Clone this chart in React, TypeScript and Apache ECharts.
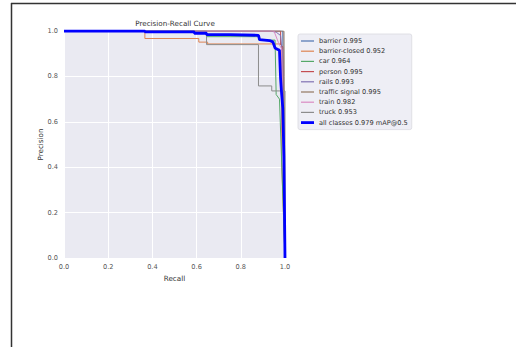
import React, { useEffect, useRef } from "react";
import * as echarts from "echarts";

const classNames = [
  "barrier 0.995",
  "barrier-closed 0.952",
  "car 0.964",
  "person 0.995",
  "rails 0.993",
  "traffic signal 0.995",
  "train 0.982",
  "truck 0.953",
];
const allClassesName = "all classes 0.979 mAP@0.5";
const classColors = ["#4C72B0", "#DD8452", "#55A868", "#C44E52", "#8172B3", "#937860", "#DA8BC3", "#8C8C8C"];

// [recall, precision]
const barrierCurve = [[0, 1], [0.99, 1], [1.0, 0]];
const barrierClosedCurve = [[0, 1], [0.366, 1], [0.366, 0.967], [0.61, 0.967], [0.61, 0.951], [0.65, 0.951], [0.65, 0.943], [0.975, 0.943], [0.985, 0.94], [0.985, 0.42], [1.0, 0]];
const carCurve = [[0, 1], [0.645, 1], [0.645, 0.975], [0.88, 0.975], [0.88, 0.96], [0.955, 0.96], [0.96, 0.72], [0.975, 0.7], [1.0, 0]];
const personCurve = [[0, 1], [0.98, 1], [0.98, 0.94], [0.99, 0.93], [1.0, 0]];
const railsCurve = [[0, 1], [0.93, 1], [0.96, 0.995], [0.98, 0.98], [0.99, 0.88], [1.0, 0]];
const trafficSignalCurve = [[0, 1], [0.995, 1], [1.0, 0]];
const trainCurve = [[0, 1], [0.95, 1], [0.97, 0.95], [0.98, 0.93], [0.985, 0.92], [1.0, 0]];
const truckCurve = [[0, 1], [0.59, 1], [0.59, 0.99], [0.645, 0.99], [0.645, 0.94], [0.88, 0.94], [0.88, 0.758], [0.94, 0.758], [0.94, 0.736], [1.0, 0.736], [1.0, 0]];
const allClassesCurve = [[0, 1], [0.366, 1], [0.366, 0.996], [0.59, 0.996], [0.59, 0.99], [0.645, 0.99], [0.645, 0.984], [0.75, 0.984], [0.75, 0.981], [0.88, 0.981], [0.885, 0.962], [0.93, 0.958], [0.945, 0.952], [0.955, 0.925], [0.965, 0.92], [0.975, 0.915], [0.98, 0.79], [0.985, 0.72], [0.99, 0.66], [0.995, 0.45], [1.0, 0]];

const classCurves = [barrierCurve, barrierClosedCurve, carCurve, personCurve, railsCurve, trafficSignalCurve, trainCurve, truckCurve];

const FONT = "DejaVu Sans";
const THIN_ICON = "path://M0 0H13V1.2H0Z";
const BOLD_ICON = "path://M0 0H13V2.8H0Z";

export default function App() {
  const ref = useRef<HTMLDivElement>(null);
  useEffect(() => {
    if (!ref.current) return;
    const chart = echarts.init(ref.current, undefined, { renderer: "svg" });
    const series: any[] = classCurves.map((d, i) => ({
      name: classNames[i],
      type: "line",
      data: d,
      symbol: "none",
      color: classColors[i],
      lineStyle: { width: 1, color: classColors[i] },
    }));
    series.push({
      name: allClassesName,
      type: "line",
      data: allClassesCurve,
      symbol: "none",
      color: "#0000ff",
      lineStyle: { width: 2.8, color: "#0000ff" },
      z: 5,
    });
    chart.setOption({
      animation: false,
      backgroundColor: "#ffffff",
      textStyle: { fontFamily: FONT },
      title: {
        text: "Precision-Recall Curve",
        left: 175,
        top: 20,
        textAlign: "center",
        padding: 0,
        textStyle: { fontFamily: FONT, fontSize: 7.2, fontWeight: "normal", color: "#333333" },
      },
      grid: {
        left: 64,
        top: 31,
        width: 221,
        height: 227,
        show: true,
        backgroundColor: "#eaeaf2",
        borderWidth: 0,
      },
      legend: {
        orient: "vertical",
        left: 298,
        top: 34,
        padding: [2, 4, 2, 3],
        itemWidth: 13,
        itemHeight: 6,
        itemGap: 0.2,
        symbolKeepAspect: true,
        backgroundColor: "rgba(238,238,245,1)",
        borderColor: "#d9d9e0",
        borderWidth: 0.8,
        borderRadius: 2,
        itemStyle: { borderWidth: 0 },
        data: [
          ...classNames.map((n, i) => ({ name: n, icon: THIN_ICON, itemStyle: { color: classColors[i], borderWidth: 0 } })),
          { name: allClassesName, icon: BOLD_ICON, itemStyle: { color: "#0000ff", borderWidth: 0 } },
        ],
        textStyle: { fontFamily: FONT, fontSize: 6.6, color: "#333333", lineHeight: 10 },
      },
      xAxis: {
        type: "value",
        min: 0,
        max: 1,
        interval: 0.2,
        name: "Recall",
        nameLocation: "middle",
        nameGap: 16,
        nameTextStyle: { fontFamily: FONT, fontSize: 7.2, color: "#333333" },
        axisLine: { show: false },
        axisTick: { show: false },
        axisLabel: {
          margin: 5,
          fontFamily: FONT,
          fontSize: 6.6,
          color: "#555555",
          formatter: (v: number) => v.toFixed(1),
        },
        splitLine: { show: true, lineStyle: { color: "#ffffff", width: 1 } },
      },
      yAxis: {
        type: "value",
        min: 0,
        max: 1,
        interval: 0.2,
        name: "Precision",
        nameLocation: "middle",
        nameGap: 17,
        nameRotate: 90,
        nameTextStyle: { fontFamily: FONT, fontSize: 7.2, color: "#333333" },
        axisLine: { show: false },
        axisTick: { show: false },
        axisLabel: {
          margin: 6,
          fontFamily: FONT,
          fontSize: 6.6,
          color: "#555555",
          formatter: (v: number) => v.toFixed(1),
        },
        splitLine: { show: true, lineStyle: { color: "#ffffff", width: 1 } },
      },
      graphic: [
        { type: "line", shape: { x1: 11, y1: 3.5, x2: 516, y2: 3.5 }, style: { stroke: "#333333", lineWidth: 1.5 } },
        { type: "line", shape: { x1: 11.5, y1: 3, x2: 11.5, y2: 347 }, style: { stroke: "#333333", lineWidth: 1.5 } },
      ],
      series,
    });
    return () => chart.dispose();
  }, []);
  return <div ref={ref} style={{ position: "fixed", left: 0, top: 0, width: 516, height: 347 }} />;
}
